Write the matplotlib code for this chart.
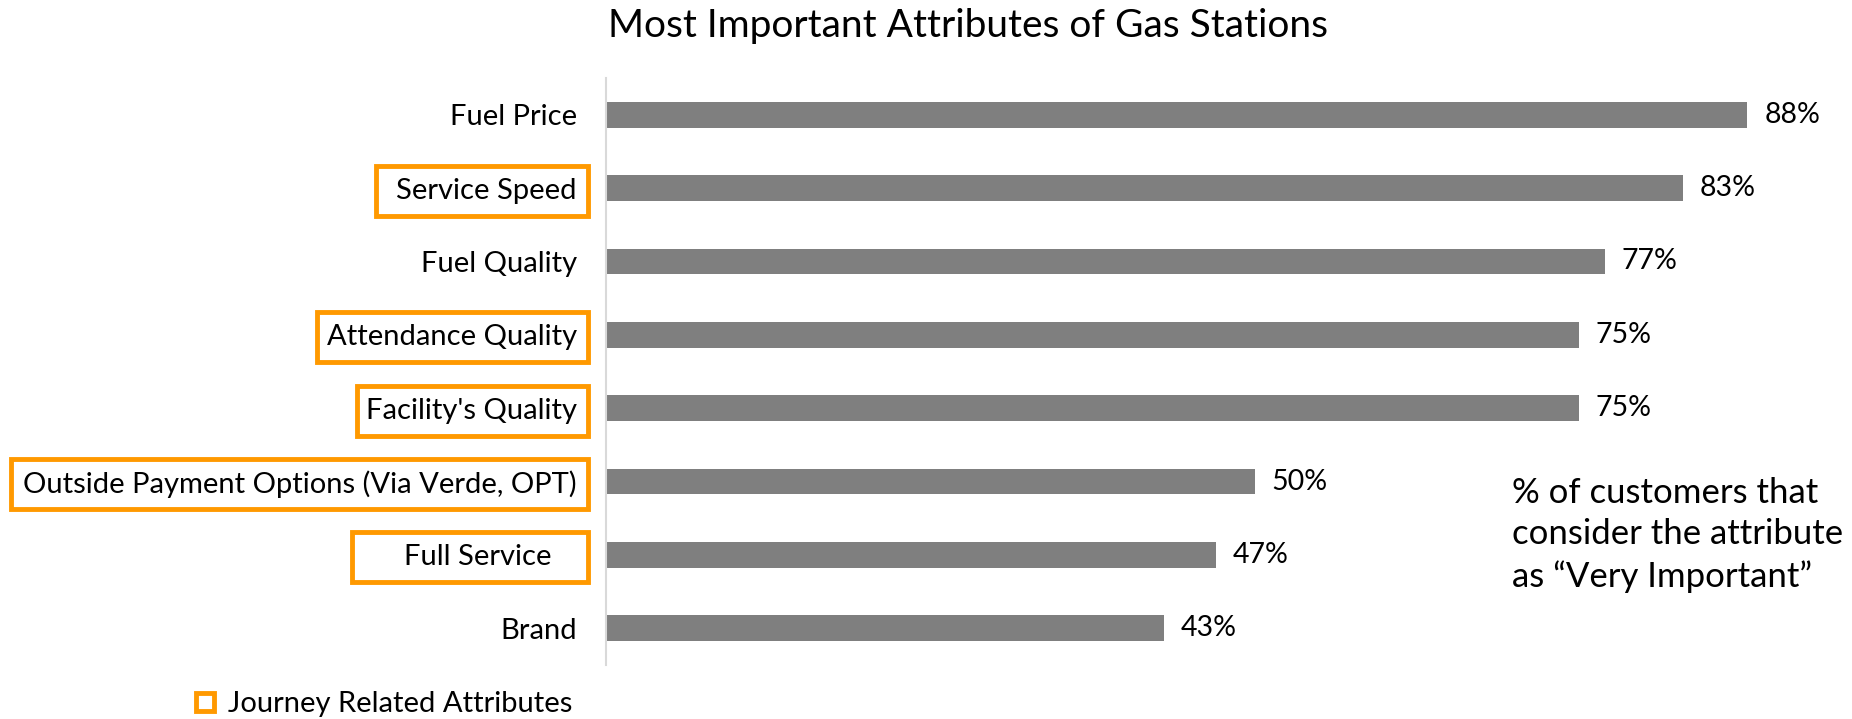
import matplotlib
matplotlib.use("Agg")
import matplotlib.pyplot as plt
from matplotlib.patches import Rectangle
from matplotlib.lines import Line2D
from matplotlib.transforms import ScaledTranslation

plt.rcParams['font.family'] = ['Lato', 'DejaVu Sans']

categories = ["Fuel Price", "Service Speed", "Fuel Quality", "Attendance Quality",
              "Facility's Quality", "Outside Payment Options (Via Verde, OPT)",
              "Full Service", "Brand"]
values = [88, 83, 77, 75, 75, 50, 47, 43]
value_labels = ["88%", "83%", "77%", "75%", "75%", "50%", "47%", "43%"]
journey = [False, True, False, True, True, True, True, False]

title = "Most Important Attributes of Gas Stations"
note = "% of customers that\nconsider the attribute\nas \u201cVery Important\u201d"
legend_label = "Journey Related Attributes"

BAR = "#7F7F7F"
ORANGE = "#FF9900"

W, H, DPI = 1852, 719, 100
fig = plt.figure(figsize=(W / DPI, H / DPI), dpi=DPI)
ax_left = 606 / W
ax = fig.add_axes([ax_left, 1 - 665 / H, 0.95 * 1297 / W, (665 - 78) / H])

y = list(range(len(categories)))
ax.barh(y, values, height=0.35, color=BAR)
ax.set_xlim(0, 95)
ax.set_ylim(len(categories) - 0.5, -0.5)
ax.set_yticks(y)
ax.set_yticklabels(categories, fontsize=21)
ax.tick_params(axis='y', length=0, pad=21)
ax.set_xticks([])
for s in ['top', 'right', 'bottom']:
    ax.spines[s].set_visible(False)
ax.spines['left'].set_color("#D9D9D9")
ax.spines['left'].set_linewidth(1.5)

for yi, v, lab in zip(y, values, value_labels):
    ax.annotate(lab, (v, yi), xytext=(17, 0), textcoords='offset pixels',
                ha='left', va='center', fontsize=20.5)

fig.text(968 / W, 1 - 26 / H, title, ha='center', va='center', fontsize=28)
fig.text(1512 / W, 1 - 535 / H, note, ha='left', va='center', fontsize=25, linespacing=1.35)

# shift "Full Service" label slightly left like the reference
labels = ax.get_yticklabels()
labels[6].set_transform(labels[6].get_transform() + ScaledTranslation(-25 / DPI, 0, fig.dpi_scale_trans))

fig.canvas.draw()
renderer = fig.canvas.get_renderer()
box_right = 588
left_pad = {1: 20, 3: 10, 4: 9, 5: 12, 6: 52}
for i, lab in enumerate(labels):
    if not journey[i]:
        continue
    bb = lab.get_window_extent(renderer)
    cy = (bb.y0 + bb.y1) / 2
    x0 = bb.x0 - left_pad.get(i, 12)
    h = 50
    rect = Rectangle(((x0) / W, (cy - h / 2) / H), (box_right - x0) / W, h / H,
                     transform=fig.transFigure, fill=False, edgecolor=ORANGE,
                     linewidth=3.5, clip_on=False)
    fig.add_artist(rect)

handle = Line2D([], [], linestyle='none', marker='s', markersize=13,
                markerfacecolor='white', markeredgecolor=ORANGE, markeredgewidth=3.5)
fig.legend([handle], [legend_label], loc='center left', bbox_to_anchor=(190 / W, 1 - 704 / H),
           frameon=False, fontsize=21, handletextpad=0.3, handlelength=1.0, borderpad=0, borderaxespad=0)

fig.savefig("out.png", dpi=DPI)
